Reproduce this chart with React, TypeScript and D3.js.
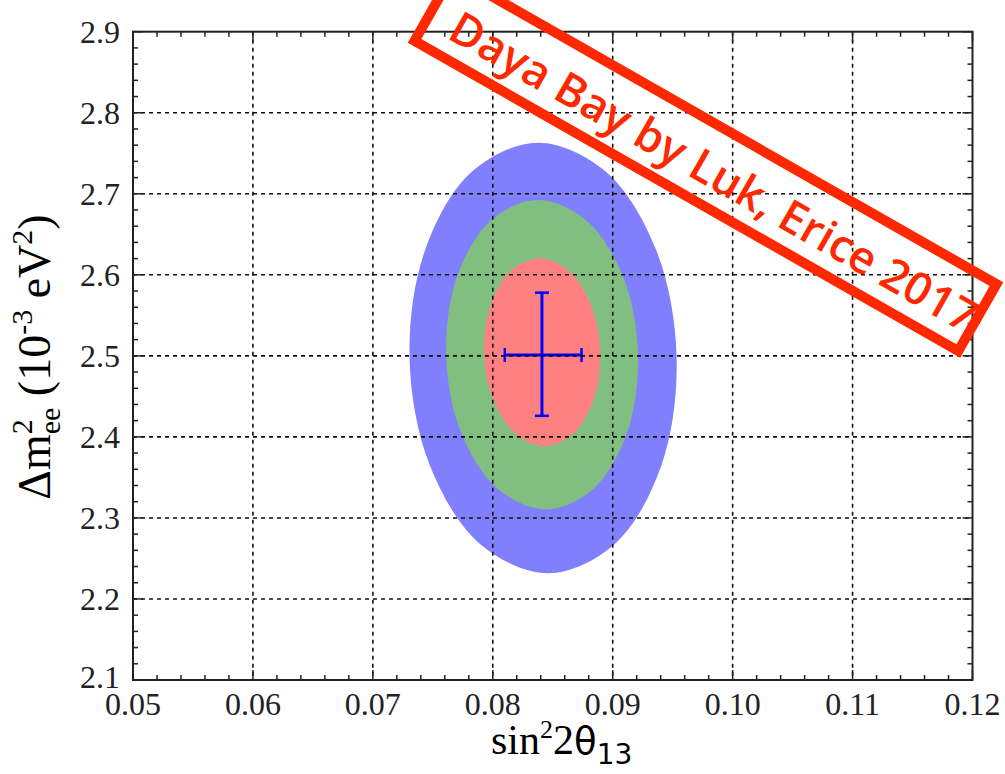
import React from "react";
import * as d3 from "d3";

// ---- data ----
const xTicks = [0.05, 0.06, 0.07, 0.08, 0.09, 0.1, 0.11, 0.12];
const xTickLabels = ["0.05", "0.06", "0.07", "0.08", "0.09", "0.10", "0.11", "0.12"];
const yTicks = [2.1, 2.2, 2.3, 2.4, 2.5, 2.6, 2.7, 2.8, 2.9];
const yTickLabels = ["2.1", "2.2", "2.3", "2.4", "2.5", "2.6", "2.7", "2.8", "2.9"];

// contour boundary points [sin^2 2theta13, dm2ee]
const contour3sigma: [number, number][] = [
  [0.09533, 2.4974], [0.09405, 2.3645], [0.09013, 2.2672], [0.08461, 2.2317],
  [0.07898, 2.2672], [0.07476, 2.3645], [0.07306, 2.4974], [0.07435, 2.6303],
  [0.07827, 2.7275], [0.08378, 2.763], [0.08941, 2.7275], [0.09363, 2.6303],
];
const contour2sigma: [number, number][] = [
  [0.09211, 2.5014], [0.09121, 2.4059], [0.08841, 2.3361], [0.08445, 2.3105],
  [0.0804, 2.3361], [0.07735, 2.4059], [0.07611, 2.5014], [0.07701, 2.5969],
  [0.07982, 2.6668], [0.08378, 2.6923], [0.08782, 2.6668], [0.09088, 2.5969],
];
const contour1sigma: [number, number][] = [
  [0.08895, 2.5045], [0.08841, 2.4465], [0.08671, 2.4042], [0.08432, 2.3886],
  [0.08188, 2.4042], [0.08003, 2.4465], [0.07927, 2.5045], [0.07982, 2.5625],
  [0.08151, 2.6048], [0.0839, 2.6204], [0.08635, 2.6048], [0.0882, 2.5625],
];
const contours = [
  { pts: contour3sigma, color: "#8080ff" },
  { pts: contour2sigma, color: "#80bf80" },
  { pts: contour1sigma, color: "#ff8080" },
];
const bestFit = { x: 0.0841, y: 2.501, xLo: 0.081, xHi: 0.0874, yLo: 2.426, yHi: 2.578 };

const stampText = "Daya Bay by Luk, Erice 2017";

// ---- layout ----
const W = 1005, H = 774;
const L = 133, R = 972.5, T = 31.7, B = 680;

export default function App() {
  const x = d3.scaleLinear().domain([0.05, 0.12]).range([L, R]);
  const y = d3.scaleLinear().domain([2.1, 2.9]).range([B, T]);
  const line = d3.line<[number, number]>()
    .x((d) => x(d[0]))
    .y((d) => y(d[1]))
    .curve(d3.curveCatmullRomClosed.alpha(0.5));

  const xMinor = d3.range(0, 36).map((i) => 0.05 + i * 0.002);
  const yMinor = d3.range(0, 41).map((i) => 2.1 + i * 0.02);

  const serif = "'Liberation Serif', 'Times New Roman', serif";
  const sans = "'DejaVu Sans', 'Noto Sans', sans-serif";
  const axisCol = "#222";
  const blue = "#0000ff";
  const capW = 7;

  // stamp geometry
  const sx = 705.5, sy = 162.5, sAng = 29.7, sLen = 626, sHt = 77;

  return (
    <svg width={W} height={H} style={{ position: "absolute", left: 0, top: 0, background: "#fff" }}>
      <rect x={0} y={0} width={W} height={H} fill="#fff" />
      {contours.map((c, i) => (
        <path key={i} d={line(c.pts) || ""} fill={c.color} stroke="none" />
      ))}
      {/* best fit */}
      <g stroke={blue} strokeWidth={3}>
        <line x1={x(bestFit.xLo)} x2={x(bestFit.xHi)} y1={y(bestFit.y)} y2={y(bestFit.y)} />
        <line x1={x(bestFit.x)} x2={x(bestFit.x)} y1={y(bestFit.yLo)} y2={y(bestFit.yHi)} />
        <line x1={x(bestFit.x) - capW} x2={x(bestFit.x) + capW} y1={y(bestFit.yLo)} y2={y(bestFit.yLo)} strokeWidth={2.5} />
        <line x1={x(bestFit.x) - capW} x2={x(bestFit.x) + capW} y1={y(bestFit.yHi)} y2={y(bestFit.yHi)} strokeWidth={2.5} />
        <line x1={x(bestFit.xLo)} x2={x(bestFit.xLo)} y1={y(bestFit.y) - capW} y2={y(bestFit.y) + capW} strokeWidth={2.5} />
        <line x1={x(bestFit.xHi)} x2={x(bestFit.xHi)} y1={y(bestFit.y) - capW} y2={y(bestFit.y) + capW} strokeWidth={2.5} />
      </g>
      {/* grid */}
      <g stroke="#111" strokeWidth={1.6} strokeDasharray="4,4">
        {xTicks.slice(1, -1).map((t) => (
          <line key={"gx" + t} x1={x(t)} x2={x(t)} y1={T} y2={B} />
        ))}
        {yTicks.slice(1, -1).map((t) => (
          <line key={"gy" + t} x1={L} x2={R} y1={y(t)} y2={y(t)} />
        ))}
      </g>
      {/* ticks */}
      <g stroke={axisCol} strokeWidth={1.5}>
        {xMinor.map((t, i) => {
          const len = i % 5 === 0 ? 10 : 5;
          return (
            <g key={"xm" + i}>
              <line x1={x(t)} x2={x(t)} y1={B} y2={B - len} />
              <line x1={x(t)} x2={x(t)} y1={T} y2={T + len} />
            </g>
          );
        })}
        {yMinor.map((t, i) => {
          const len = i % 5 === 0 ? 10 : 5;
          return (
            <g key={"ym" + i}>
              <line x1={L} x2={L + len} y1={y(t)} y2={y(t)} />
              <line x1={R} x2={R - len} y1={y(t)} y2={y(t)} />
            </g>
          );
        })}
      </g>
      <rect x={L} y={T} width={R - L} height={B - T} fill="none" stroke={axisCol} strokeWidth={2} />
      {/* tick labels */}
      <g fontFamily={serif} fontSize={32} fill="#222">
        {yTicks.map((t, i) => (
          <text key={"yl" + t} x={120} y={y(t) + (i === 0 ? 8 : 11)} textAnchor="end">{yTickLabels[i]}</text>
        ))}
        {xTicks.map((t, i) => (
          <text key={"xl" + t} x={x(t)} y={715} textAnchor="middle">{xTickLabels[i]}</text>
        ))}
      </g>
      {/* axis labels */}
      <text x={491} y={754} fontFamily={serif} fontSize={42} fill="#000">
        sin<tspan fontSize={26} dy={-16}>2</tspan>
        <tspan dy={16}>2</tspan>
        <tspan fontFamily={sans} fontSize={37}>θ</tspan>
        <tspan fontFamily={sans} fontSize={28} dy={10}>13</tspan>
      </text>
      <text transform="translate(50,357) rotate(-90)" textAnchor="middle" fontFamily={serif} fontSize={46} fill="#000">
        Δm<tspan fontSize={30} dy={-18}>2</tspan>
        <tspan fontSize={30} dy={28} dx={-15}>ee</tspan>
        <tspan dy={-10}> (10</tspan>
        <tspan fontSize={30} dy={-18}>-3</tspan>
        <tspan dy={18}> eV</tspan>
        <tspan fontSize={30} dy={-18}>2</tspan>
        <tspan dy={18}>)</tspan>
      </text>
      {/* stamp */}
      <g transform={`translate(${sx},${sy}) rotate(${sAng})`}>
        <rect x={-sLen / 2} y={-sHt / 2} width={sLen} height={sHt} fill="none" stroke="#ff2800" strokeWidth={10} />
        <text x={12} y={20} textAnchor="middle" fontFamily="'Open Sans', sans-serif" fontWeight={600} fontSize={45} fill="#ff2800">
          {stampText}
        </text>
      </g>
    </svg>
  );
}
